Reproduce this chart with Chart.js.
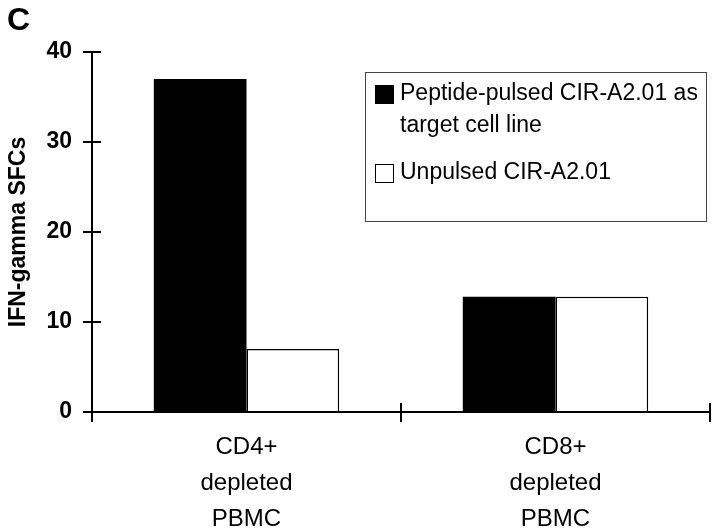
<!DOCTYPE html>
<html>
<head>
<meta charset="utf-8">
<script src="https://cdn.jsdelivr.net/npm/chart.js@4.4.0/dist/chart.umd.min.js"></script>
<style>
  body { margin: 0; background: #fff; font-family: "Liberation Sans", Arial, sans-serif; }
  #wrap { position: relative; width: 720px; height: 528px; }
  #panel { position: absolute; left: 7px; top: 1px; font: bold 32px "Liberation Sans", Arial, sans-serif; }
  #legend { position: absolute; left: 365px; top: 72px; width: 342px; height: 150px; border: 1px solid #444;
            box-sizing: border-box; font-size: 23px; line-height: 32px; color: #000; }
  .item { position: absolute; left: 9px; right: 2px; display: flex; }
  .sw { width: 19px; height: 19px; border: 1.5px solid #000; box-sizing: border-box; flex: none; margin: 9px 6px 0 0; }
</style>
</head>
<body>
<div id="wrap">
  <canvas id="chart"></canvas>
  <div id="panel">C</div>
  <div id="legend"></div>
</div>
<script>
const categories = [['CD4+', 'depleted', 'PBMC'], ['CD8+', 'depleted', 'PBMC']];
const pulsedLabel = 'Peptide-pulsed CIR-A2.01 as target cell line';
const unpulsedLabel = 'Unpulsed CIR-A2.01';
const pulsed = [37, 12.8];
const unpulsed = [7, 12.8];
const yTicks = [0, 10, 20, 30, 40];

const FONT = '"Liberation Sans", Arial, sans-serif';

// axis lines with ticks crossing both sides, like the original
const axesPlugin = {
  id: 'axes',
  afterDatasetsDraw(chart) {
    const { ctx, scales: { x, y } } = chart;
    ctx.save();
    ctx.strokeStyle = '#000';
    ctx.lineWidth = 2;
    ctx.beginPath();
    ctx.moveTo(x.left, y.top);
    ctx.lineTo(x.left, y.bottom);
    ctx.lineTo(x.right, y.bottom);
    y.ticks.forEach(t => {
      const py = y.getPixelForValue(t.value);
      ctx.moveTo(x.left - 9, py);
      ctx.lineTo(x.left + 9, py);
    });
    for (let i = 0; i <= categories.length; i++) {
      const px = x.getPixelForValue(i - 0.5);
      ctx.moveTo(px, y.bottom - 9);
      ctx.lineTo(px, y.bottom + 10);
    }
    ctx.stroke();
    ctx.restore();
  }
};

const chart = new Chart(document.getElementById('chart'), {
  type: 'bar',
  data: {
    labels: categories,
    datasets: [
      { label: pulsedLabel, data: pulsed, backgroundColor: '#000', borderColor: '#000', borderWidth: 0 },
      { label: unpulsedLabel, data: unpulsed, backgroundColor: '#fff', borderColor: '#000', borderWidth: 1.5 }
    ]
  },
  options: {
    responsive: true,
    maintainAspectRatio: false,
    animation: false,
    categoryPercentage: 0.6,
    barPercentage: 1,
    layout: { padding: { top: 52, right: 10, left: 0, bottom: 0 } },
    plugins: { legend: { display: false }, tooltip: { enabled: false } },
    scales: {
      x: {
        grid: { display: false, drawTicks: false },
        border: { display: false },
        ticks: { color: '#000', padding: 17, font: { family: FONT, size: 24, lineHeight: 1.5 } },
        afterFit(s) { s.height = 116; }
      },
      y: {
        min: 0, max: 40,
        afterBuildTicks(s) { s.ticks = yTicks.map(v => ({ value: v })); },
        grid: { display: false, drawTicks: false },
        border: { display: false },
        ticks: { color: '#000', padding: 20, font: { family: FONT, size: 23, weight: 'bold' } },
        title: { display: true, text: 'IFN-gamma SFCs', color: '#000', padding: { top: 5, bottom: 0 },
                 font: { family: FONT, size: 23, weight: 'bold' } },
        afterFit(s) { s.width = 92; }
      }
    }
  },
  plugins: [axesPlugin]
});

// legend box built from the datasets
const legend = document.getElementById('legend');
const tops = [3, 82];
chart.data.datasets.forEach((ds, i) => {
  const item = document.createElement('div');
  item.className = 'item';
  item.style.top = tops[i] + 'px';
  const sw = document.createElement('span');
  sw.className = 'sw';
  sw.style.background = ds.backgroundColor;
  const txt = document.createElement('span');
  txt.textContent = ds.label;
  item.appendChild(sw);
  item.appendChild(txt);
  legend.appendChild(item);
});
</script>
</body>
</html>
